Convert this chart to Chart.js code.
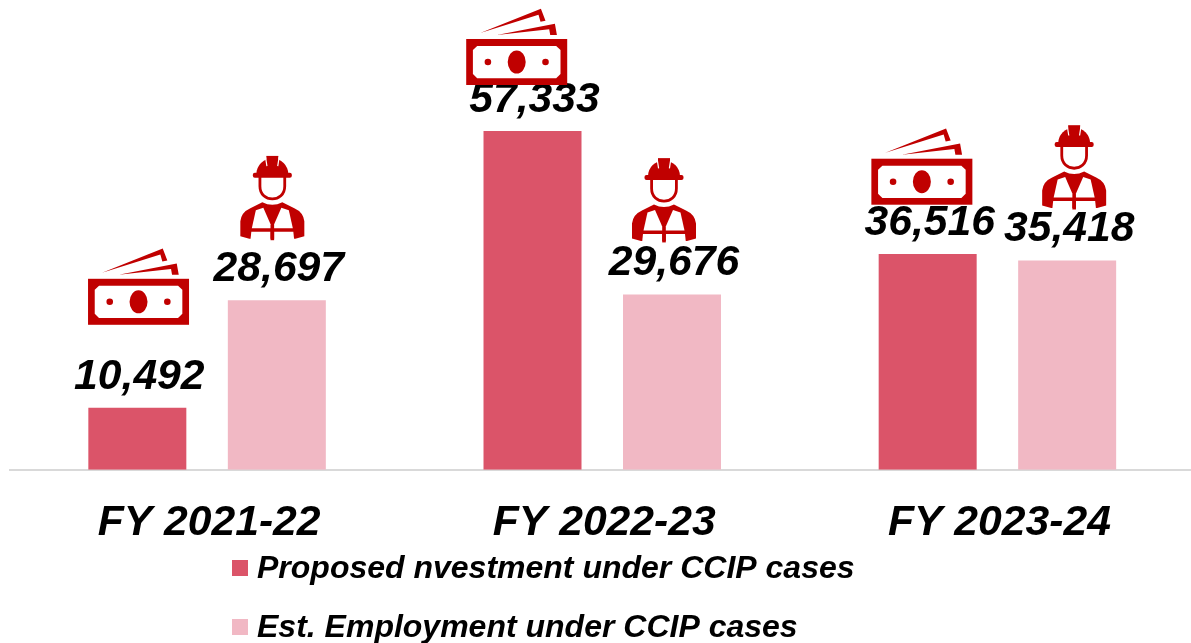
<!DOCTYPE html>
<html>
<head>
<meta charset="utf-8">
<title>CCIP cases</title>
<script src="https://cdn.jsdelivr.net/npm/chart.js@4"></script>
<style>
html, body { margin: 0; padding: 0; background: #fff; overflow: hidden; }
canvas { display: block; }
</style>
</head>
<body>
<canvas id="myChart" width="1195" height="643"></canvas>
<script>
const categories = ['FY 2021-22', 'FY 2022-23', 'FY 2023-24'];
const investment = [10492, 57333, 36516];
const employment = [28697, 29676, 35418];
const seriesNames = ['Proposed nvestment under CCIP cases', 'Est. Employment under CCIP cases'];

const barColors = ['#DB5469', '#F1B8C4'];
const iconRed = '#C00000';
const boldItalic = 'italic bold 42.67px "Liberation Sans", Arial, sans-serif';

// icon offsets from the bar's centre x and top y, per category
const moneyOffsets = [[-49.3, -129], [-66.3, -92], [-56.3, -95.3]];
const workerOffsets = [[-4.5, -145], [-8, -137], [7, -136]];

function drawMoney(ctx, x, y) {
    ctx.save();
    ctx.translate(x, y);
    ctx.fillStyle = iconRed;
    ctx.fillRect(0, 0, 101, 46);
    ctx.beginPath();
    ctx.moveTo(14, -6); ctx.lineTo(74.7, -30.3); ctx.lineTo(79.3, -18.3);
    ctx.lineTo(74.3, -17.3); ctx.lineTo(72.3, -24.3); ctx.closePath();
    ctx.moveTo(30.7, -4); ctx.lineTo(88.7, -15.3); ctx.lineTo(90.7, -4);
    ctx.lineTo(84, -4); ctx.lineTo(83, -9.7); ctx.closePath();
    ctx.fill();
    ctx.fillStyle = '#fff';
    ctx.beginPath();
    ctx.moveTo(11, 7); ctx.lineTo(90, 7); ctx.lineTo(94.3, 11); ctx.lineTo(94.3, 35);
    ctx.lineTo(90, 39.3); ctx.lineTo(11, 39.3); ctx.lineTo(6.7, 35); ctx.lineTo(6.7, 11);
    ctx.closePath();
    ctx.fill();
    ctx.fillStyle = iconRed;
    ctx.beginPath();
    ctx.ellipse(50.5, 23, 9, 11.5, 0, 0, Math.PI * 2);
    ctx.moveTo(25, 23); ctx.arc(21.7, 23, 3.3, 0, Math.PI * 2);
    ctx.moveTo(82.6, 23); ctx.arc(79.3, 23, 3.3, 0, Math.PI * 2);
    ctx.fill();
    ctx.restore();
}

function drawWorker(ctx, x, y) {
    ctx.save();
    ctx.translate(x, y);
    ctx.fillStyle = iconRed;
    ctx.strokeStyle = iconRed;
    // helmet
    ctx.beginPath();
    ctx.arc(0, 19, 16, Math.PI, 0);
    ctx.fill();
    ctx.fillRect(-6, 0.7, 12, 12);
    ctx.beginPath();
    ctx.roundRect(-19.5, 17.5, 39, 5, 2);
    ctx.fill();
    ctx.strokeStyle = '#fff';
    ctx.lineWidth = 1.2;
    ctx.beginPath();
    ctx.moveTo(-6.8, 2); ctx.lineTo(-5.4, 11);
    ctx.moveTo(6.8, 2); ctx.lineTo(5.4, 11);
    ctx.stroke();
    // face
    ctx.strokeStyle = iconRed;
    ctx.lineWidth = 2.8;
    ctx.beginPath();
    ctx.moveTo(-12.4, 21);
    ctx.lineTo(-12.4, 31);
    ctx.bezierCurveTo(-12.4, 48, 12.4, 48, 12.4, 31);
    ctx.lineTo(12.4, 21);
    ctx.stroke();
    // body
    ctx.beginPath();
    ctx.moveTo(-32, 81);
    ctx.lineTo(-32, 66);
    ctx.quadraticCurveTo(-31, 57, -22, 53);
    ctx.lineTo(-10, 47);
    ctx.quadraticCurveTo(0, 52, 10, 47);
    ctx.lineTo(22, 53);
    ctx.quadraticCurveTo(31, 57, 32, 66);
    ctx.lineTo(32, 81);
    ctx.lineTo(23, 83.5);
    ctx.lineTo(-23, 83.5);
    ctx.closePath();
    ctx.fill();
    ctx.fillStyle = '#fff';
    [-1, 1].forEach(function (s) {
        // vest panels either side of the V
        ctx.beginPath();
        ctx.moveTo(s * 16.5, 55); ctx.lineTo(s * 9, 52.5); ctx.lineTo(s * 1.8, 69);
        ctx.lineTo(s * 1.8, 73); ctx.lineTo(s * 20.5, 73);
        ctx.closePath();
        ctx.fill();
        ctx.beginPath();
        ctx.moveTo(s * 1.8, 76.5); ctx.lineTo(s * 21, 76.5); ctx.lineTo(s * 21.8, 84);
        ctx.lineTo(s * 1.8, 84);
        ctx.closePath();
        ctx.fill();
    });
    ctx.fillStyle = iconRed;
    ctx.fillRect(-1.8, 76, 3.6, 9);
    ctx.restore();
}

const barLabels = {
    id: 'barLabels',
    afterDatasetsDraw(chart) {
        const ctx = chart.ctx;
        ctx.save();
        ctx.font = boldItalic;
        ctx.fillStyle = '#000';
        ctx.textAlign = 'center';
        ctx.textBaseline = 'alphabetic';
        chart.data.datasets.forEach(function (ds, d) {
            chart.getDatasetMeta(d).data.forEach(function (bar, i) {
                ctx.fillText(ds.data[i].toLocaleString('en-US'), bar.x + 2, bar.y - 19);
            });
        });
        chart.getDatasetMeta(0).data.forEach(function (bar, i) {
            drawMoney(ctx, bar.x + moneyOffsets[i][0], bar.y + moneyOffsets[i][1]);
        });
        chart.getDatasetMeta(1).data.forEach(function (bar, i) {
            drawWorker(ctx, bar.x + workerOffsets[i][0], bar.y + workerOffsets[i][1]);
        });
        ctx.restore();
    }
};

// the stacked legend sits left aligned under the axis labels
const stackedLegend = {
    id: 'stackedLegend',
    afterDraw(chart) {
        const ctx = chart.ctx;
        ctx.save();
        ctx.font = 'italic bold 32px "Liberation Sans", Arial, sans-serif';
        ctx.textBaseline = 'alphabetic';
        chart.data.datasets.forEach(function (ds, d) {
            const top = 560 + d * 59;
            ctx.fillStyle = ds.backgroundColor;
            ctx.fillRect(232, top, 16, 16);
            ctx.fillStyle = '#000';
            ctx.fillText(ds.label, 257, top + 18);
        });
        ctx.restore();
    }
};

const ctx = document.getElementById('myChart').getContext('2d');
const myChart = new Chart(ctx, {
    type: 'bar',
    data: {
        labels: categories,
        datasets: [{
            label: seriesNames[0],
            data: investment,
            backgroundColor: barColors[0]
        }, {
            label: seriesNames[1],
            data: employment,
            backgroundColor: barColors[1]
        }]
    },
    plugins: [barLabels, stackedLegend],
    options: {
        responsive: false,
        animation: false,
        layout: { padding: { left: 9.5, right: 0, top: 0, bottom: 66 } },
        datasets: { bar: { categoryPercentage: 0.706, barPercentage: 0.7025 } },
        scales: {
            x: {
                grid: { display: false, drawTicks: false },
                border: { color: '#D9D9D9', width: 2 },
                ticks: {
                    padding: 28,
                    labelOffset: 2,
                    color: '#000',
                    maxRotation: 0,
                    font: { family: '"Liberation Sans", Arial, sans-serif', size: 42.67, weight: 'bold', style: 'italic' }
                }
            },
            y: { display: false, min: 0, max: 79500 }
        },
        plugins: {
            legend: { display: false },
            tooltip: { enabled: false }
        }
    }
});
</script>
</body>
</html>
